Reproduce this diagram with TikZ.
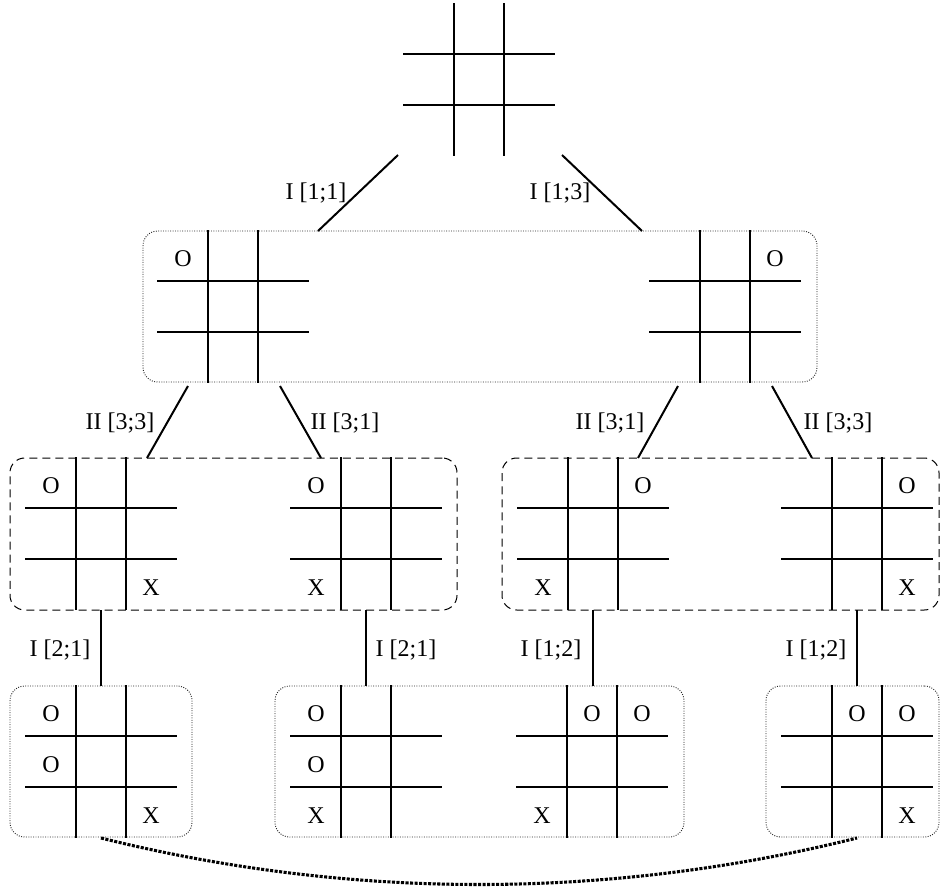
\documentclass[tikz,border=0pt]{standalone}
\usepackage{fontspec}
\setmainfont{Liberation Serif}
\usetikzlibrary{fit}

% one tic-tac-toe board: name, left, top, marks {col/row/symbol,...}
\newcommand\tttboard[4]{%
  \begin{scope}[shift={(#2,#3)}]
    \coordinate (#1) at (0,0);
    \draw[gridline] (50,0) -- (50,151);
    \draw[gridline] (100,0) -- (100,151);
    \draw[gridline] (0,50) -- (150,50);
    \draw[gridline] (0,101) -- (150,101);
    \foreach \c/\r/\m in {#4}
      \node[cellmark] (#1-\c-\r) at ({25+50*\c},{28+51*\r}) {\m};
  \end{scope}}

\tikzset{
  gridline/.style={line width=0.8pt, line cap=rect},
  cellmark/.style={inner sep=0pt},
  move/.style={line width=1.5pt},
  movelabel/.style={anchor=base, inner sep=0pt},
  dotbox/.style={draw=black!85, line width=0.7pt, dash pattern=on 0.7pt off 1.1pt,
                 rounded corners=11pt, inner sep=0pt},
  dashbox/.style={draw, line width=0.75pt, dash pattern=on 6pt off 3.8pt,
                  rounded corners=11pt, inner sep=0pt},
  link/.style={line width=2.3pt, dash pattern=on 2.3pt off 1.1pt},
}

\begin{document}
\begin{tikzpicture}[x=0.75pt, y=-0.75pt, font=\fontsize{18}{20}\selectfont]
\useasboundingbox (0,0) rectangle (940,896);

% ---- grouping boxes ----
\coordinate (b1tl) at (143,231);  \coordinate (b1br) at (817,382);
\coordinate (b2tl) at (10,458);   \coordinate (b2br) at (457,610);
\coordinate (b3tl) at (502,458);  \coordinate (b3br) at (939,610);
\coordinate (b4tl) at (10,686);   \coordinate (b4br) at (192,837);
\coordinate (b5tl) at (275,686);  \coordinate (b5br) at (684,837);
\coordinate (b6tl) at (766,686);  \coordinate (b6br) at (939,837);
\node[dotbox,  fit=(b1tl)(b1br)] (lvl1) {};
\node[dashbox, fit=(b2tl)(b2br)] (lvl2a) {};
\node[dashbox, fit=(b3tl)(b3br)] (lvl2b) {};
\node[dotbox,  fit=(b4tl)(b4br)] (lvl3a) {};
\node[dotbox,  fit=(b5tl)(b5br)] (lvl3b) {};
\node[dotbox,  fit=(b6tl)(b6br)] (lvl3c) {};

% ---- boards ----
\tttboard{root}{404}{4}{}
\tttboard{pA}{158}{231}{0/0/O}
\tttboard{pB}{650}{231}{2/0/O}
\tttboard{qA}{26}{458}{0/0/O, 2/2/X}
\tttboard{qB}{291}{458}{0/0/O, 0/2/X}
\tttboard{qC}{518}{458}{2/0/O, 0/2/X}
\tttboard{qD}{782}{458}{2/0/O, 2/2/X}
\tttboard{rA}{26}{686}{0/0/O, 0/1/O, 2/2/X}
\tttboard{rB}{291}{686}{0/0/O, 0/1/O, 0/2/X}
\tttboard{rC}{517}{686}{1/0/O, 2/0/O, 0/2/X}
\tttboard{rD}{782}{686}{1/0/O, 2/0/O, 2/2/X}

% ---- move connectors ----
\coordinate (m1s) at (398,155);  \coordinate (m1e) at (318,231);
\coordinate (m2s) at (562,155);  \coordinate (m2e) at (642,231);
\coordinate (m3s) at (188,386);  \coordinate (m3e) at (147,458);
\coordinate (m4s) at (280,386);  \coordinate (m4e) at (321,458);
\coordinate (m5s) at (678,386);  \coordinate (m5e) at (638,458);
\coordinate (m6s) at (772,386);  \coordinate (m6e) at (812,458);
\coordinate (m7s) at (101,610);  \coordinate (m7e) at (101,686);
\coordinate (m8s) at (366,610);  \coordinate (m8e) at (366,686);
\coordinate (m9s) at (593,610);  \coordinate (m9e) at (593,686);
\coordinate (m10s) at (857,610); \coordinate (m10e) at (857,686);
\foreach \i in {1,...,10} \draw[move] (m\i s) -- (m\i e);

% ---- move labels ----
\node[movelabel] (t1)  at (316,199) {I [1;1]};
\node[movelabel] (t2)  at (560,199) {I [1;3]};
\node[movelabel] (t3)  at (120,429) {II [3;3]};
\node[movelabel] (t4)  at (345,429) {II [3;1]};
\node[movelabel] (t5)  at (610,429) {II [3;1]};
\node[movelabel] (t6)  at (838,429) {II [3;3]};
\node[movelabel] (t7)  at (60,656)  {I [2;1]};
\node[movelabel] (t8)  at (406,656) {I [2;1]};
\node[movelabel] (t9)  at (551,656) {I [1;2]};
\node[movelabel] (t10) at (816,656) {I [1;2]};

% ---- equivalence link between the two outer leaves ----
\coordinate (lk1) at (101,838);
\coordinate (lk2) at (857,838);
\draw[link] (lk1) .. controls (350,900) and (608,900) .. (lk2);
\end{tikzpicture}
\end{document}
